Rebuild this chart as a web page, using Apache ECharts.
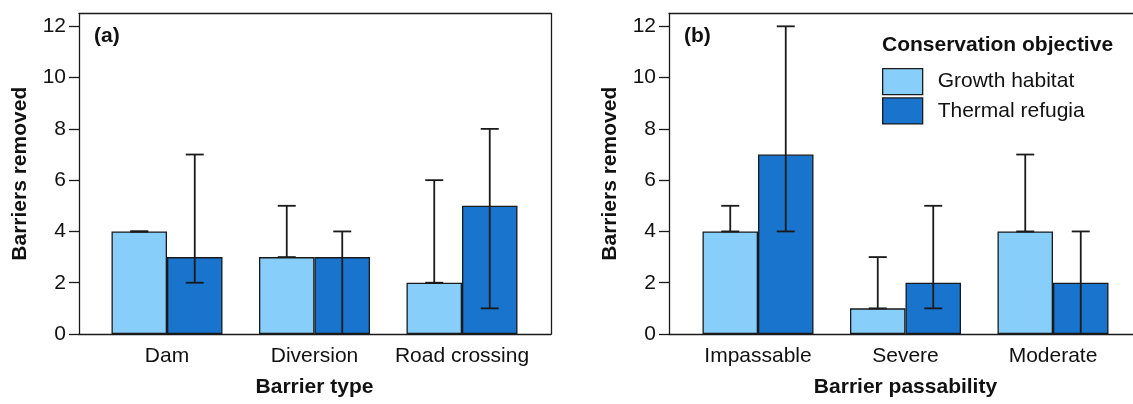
<!DOCTYPE html>
<html>
<head>
<meta charset="utf-8">
<script src="https://cdn.jsdelivr.net/npm/echarts@6/dist/echarts.min.js"></script>
<style>
  html, body { margin: 0; padding: 0; background: #fff; }
  #chart { width: 1133px; height: 404px; }
</style>
</head>
<body>
<div id="chart"></div>
<script>
// Panel (a): barriers removed by barrier type
const barrierTypes = ['Dam', 'Diversion', 'Road crossing'];
const typeGrowth = [4, 3, 2];
const typeGrowthLow = [4, 3, 2];
const typeGrowthHigh = [4, 5, 6];
const typeThermal = [3, 3, 5];
const typeThermalLow = [2, 0, 1];
const typeThermalHigh = [7, 4, 8];

// Panel (b): barriers removed by barrier passability
const passability = ['Impassable', 'Severe', 'Moderate'];
const passGrowth = [4, 1, 4];
const passGrowthLow = [4, 1, 4];
const passGrowthHigh = [5, 3, 7];
const passThermal = [7, 2, 2];
const passThermalLow = [4, 1, 0];
const passThermalHigh = [12, 5, 4];

const yTicks = [0, 2, 4, 6, 8, 10, 12];
const seriesNames = ['Growth habitat', 'Thermal refugia'];

const FONT = '"Liberation Sans", Arial, Helvetica, sans-serif';
const FS = 21;
const LIGHT = '#87CEFA';
const DARK = '#1874CD';
const INK = '#1a1a1a';
const TEXT = '#111';
const BAR_W = 55.5;
const CAP = 9;
const Y_MAX = 12.5;
const TOP = 13.5;
const HEIGHT = 320.5;

const frameLine = () => ({ show: true, onZero: false, lineStyle: { color: INK, width: 1.3 } });

const chart = echarts.init(document.getElementById('chart'), null, { renderer: 'canvas' });

function errorItems(lows, highs) {
  return lows.map((lo, i) => [i, lo, highs[i]]);
}

// Vertical range line with caps at both ends, centred on one of the paired bars
function errorRenderer(side) {
  return function (params, api) {
    const i = api.value(0);
    const pLo = api.coord([i, api.value(1)]);
    const pHi = api.coord([i, api.value(2)]);
    const x = pLo[0] + side * BAR_W / 2;
    const style = { stroke: INK, lineWidth: 1.8 };
    return {
      type: 'group',
      children: [
        { type: 'line', shape: { x1: x, y1: pLo[1], x2: x, y2: pHi[1] }, style },
        { type: 'line', shape: { x1: x - CAP, y1: pHi[1], x2: x + CAP, y2: pHi[1] }, style },
        { type: 'line', shape: { x1: x - CAP, y1: pLo[1], x2: x + CAP, y2: pLo[1] }, style }
      ]
    };
  };
}

// Line-only axes that box each panel
function frameLineAxis(gridIndex, position, max) {
  return {
    gridIndex, type: 'value', min: 0, max, position,
    axisLine: frameLine(), axisTick: { show: false }, axisLabel: { show: false },
    splitLine: { show: false }
  };
}

function frameY(gridIndex) {
  return {
    gridIndex, type: 'value', min: 0, max: Y_MAX, position: 'left',
    axisLine: frameLine(),
    axisTick: { show: true, length: 10, customValues: yTicks, lineStyle: { color: INK, width: 1.3 } },
    axisLabel: { customValues: yTicks, margin: 13, fontSize: FS, color: TEXT, fontFamily: FONT },
    splitLine: { show: false },
    name: 'Barriers removed', nameLocation: 'middle', nameGap: 48,
    nameTextStyle: { fontSize: FS, fontWeight: 'bold', color: TEXT, fontFamily: FONT }
  };
}

function dataY(gridIndex) {
  return { gridIndex, type: 'value', min: 0, max: Y_MAX, show: false, splitLine: { show: false } };
}

function catX(gridIndex, cats, name) {
  return {
    gridIndex, type: 'category', data: cats,
    axisLine: { show: false, onZero: false }, axisTick: { show: false },
    axisLabel: { interval: 0, margin: 12, fontSize: FS, color: TEXT, fontFamily: FONT },
    name, nameLocation: 'middle', nameGap: 43,
    nameTextStyle: { fontSize: FS, fontWeight: 'bold', color: TEXT, fontFamily: FONT }
  };
}

function barSeries(name, xi, yi, values, color) {
  return {
    type: 'bar', name, xAxisIndex: xi, yAxisIndex: yi, data: values,
    barWidth: BAR_W, barGap: '0%',
    itemStyle: { color, borderColor: INK, borderWidth: 1.3 },
    emphasis: { disabled: true }, z: 2
  };
}

function errSeries(xi, yi, items, side) {
  return {
    type: 'custom', xAxisIndex: xi, yAxisIndex: yi, data: items,
    renderItem: errorRenderer(side), z: 5, silent: true,
    encode: { x: 0, y: [1, 2] }
  };
}

const frameGrid = (left) => ({ left, top: TOP, width: 472, height: HEIGHT, outerBoundsMode: 'none', containLabel: false });
const dataGrid = (left) => ({ left, top: TOP, width: 442.5, height: HEIGHT, outerBoundsMode: 'none', containLabel: false });

const option = {
  backgroundColor: '#fff',
  animation: false,
  textStyle: { fontFamily: FONT },
  grid: [frameGrid(79), dataGrid(93.25), frameGrid(669), dataGrid(684.25)],
  xAxis: [
    frameLineAxis(0, 'bottom', 1),
    catX(1, barrierTypes, 'Barrier type'),
    frameLineAxis(2, 'bottom', 1),
    catX(3, passability, 'Barrier passability'),
    frameLineAxis(0, 'top', 1),
    frameLineAxis(2, 'top', 1)
  ],
  yAxis: [
    frameY(0), dataY(1), frameY(2), dataY(3),
    frameLineAxis(0, 'right', Y_MAX)
  ],
  legend: {
    data: seriesNames,
    orient: 'vertical', left: 882, top: 68, padding: 0,
    icon: 'rect',
    itemWidth: 40, itemHeight: 26, itemGap: 2,
    textStyle: { fontSize: FS, color: TEXT, fontFamily: FONT, padding: [0, 0, 0, 10] },
    itemStyle: { borderColor: INK, borderWidth: 1.3 },
    selectedMode: false
  },
  graphic: [
    { type: 'text', x: 94, y: 36, style: { text: '(a)', font: 'bold 21px ' + FONT, fill: TEXT, verticalAlign: 'middle' } },
    { type: 'text', x: 684, y: 36, style: { text: '(b)', font: 'bold 21px ' + FONT, fill: TEXT, verticalAlign: 'middle' } },
    { type: 'text', x: 882, y: 45, style: { text: 'Conservation objective', font: 'bold 21px ' + FONT, fill: TEXT, verticalAlign: 'middle' } }
  ],
  series: [
    barSeries(seriesNames[0], 1, 1, typeGrowth, LIGHT),
    barSeries(seriesNames[1], 1, 1, typeThermal, DARK),
    errSeries(1, 1, errorItems(typeGrowthLow, typeGrowthHigh), -1),
    errSeries(1, 1, errorItems(typeThermalLow, typeThermalHigh), 1),
    barSeries(seriesNames[0], 3, 3, passGrowth, LIGHT),
    barSeries(seriesNames[1], 3, 3, passThermal, DARK),
    errSeries(3, 3, errorItems(passGrowthLow, passGrowthHigh), -1),
    errSeries(3, 3, errorItems(passThermalLow, passThermalHigh), 1)
  ]
};

chart.setOption(option);
</script>
</body>
</html>
